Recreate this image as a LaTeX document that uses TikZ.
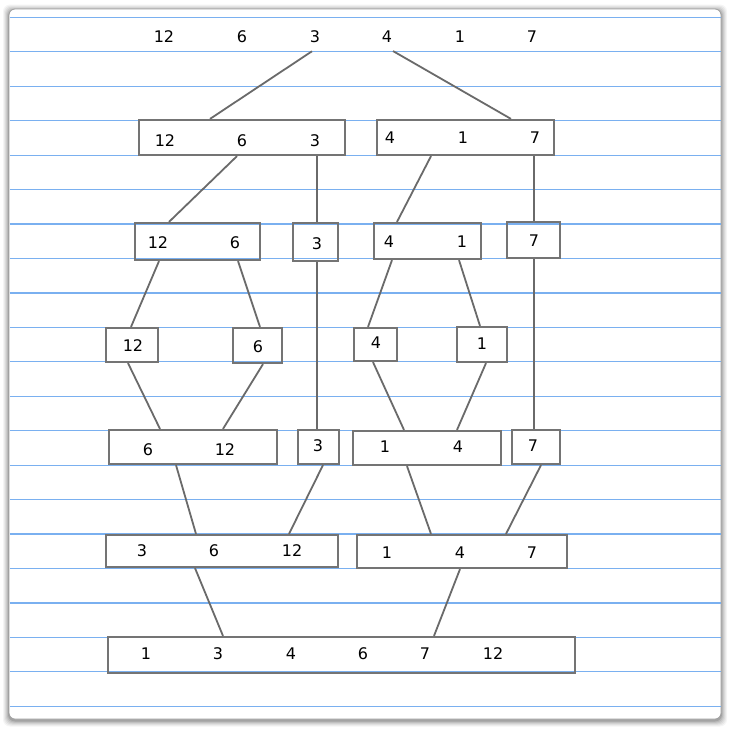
\documentclass[tikz,border=0pt]{standalone}
\usepackage{fontspec}
\setmainfont{DejaVu Sans}
\usetikzlibrary{calc}
\definecolor{ruleblue}{HTML}{7AB0F0}
\definecolor{boxgray}{HTML}{747474}
\definecolor{linkgray}{HTML}{6A6A6A}
\tikzset{
	rule/.style={draw=ruleblue, line width=1.2pt},
	box/.style={draw=boxgray, line width=2.2pt, inner sep=0pt},
	num/.style={inner sep=1pt, font=\fontsize{16}{19}\selectfont},
	link/.style={draw=linkgray, line width=1.8pt},
}
% box: name, centre, width, height
\def\bx(#1)(#2,#3)(#4,#5){\node[box, minimum width=#4pt, minimum height=#5pt] (#1) at (#2,#3) {};}

\begin{document}
\begin{tikzpicture}[x=1pt,y=-1pt]
			\useasboundingbox (0,0) rectangle (730,729);
			%%%%% PAPER %%%%%
			\foreach \s/\o in {6/0.04,5/0.05,4/0.06,3/0.07,2/0.09,1/0.12}
				\fill[black, opacity=\o, rounded corners=7] (9-\s,9-\s+1.5) rectangle (721+\s,719+\s+1.5);
			\filldraw[fill=white, draw=gray!75, line width=0.8pt, rounded corners=6] (9,9) rectangle (721,719);
			\foreach \k in {0,...,20}
				\draw[rule] (9.5,{17.3+34.45*\k}) -- (720.5,{17.3+34.45*\k});
			
			%%%%% START %%%%%
			\foreach \v/\x [count=\i] in {12/164,6/242,3/315,4/387,1/460,7/532}
				\node[num] (in\i) at (\x,37) {\v};
			
			% split
			\bx(r1a)(242,137.5)(206,35)
			\bx(r1b)(465.5,137.5)(177,35)
			\foreach \v/\x [count=\i] in {12/165,6/242,3/315}
				\node[num] (r1a-\i) at (\x,141) {\v};
			\foreach \v/\x [count=\i] in {4/390,1/463,7/535}
				\node[num] (r1b-\i) at (\x,138) {\v};
			
			\bx(r2a)(197.5,241.5)(125,37)
			\bx(r2b)(315.5,242)(45,38)
			\bx(r2c)(427.5,241)(107,36)
			\bx(r2d)(533.5,240)(53,36)
			\foreach \v/\x [count=\i] in {12/158,6/235}
				\node[num] (r2a-\i) at (\x,243) {\v};
			\node[num] (r2b-1) at (317,244) {3};
			\foreach \v/\x [count=\i] in {4/389,1/462}
				\node[num] (r2c-\i) at (\x,242) {\v};
			\node[num] (r2d-1) at (534,241) {7};
			
			\bx(r3a)(132,345)(52,34)
			\bx(r3b)(257.5,345.5)(49,35)
			\bx(r3c)(375.5,344.5)(43,33)
			\bx(r3d)(482,344.5)(50,35)
			\node[num] (r3a-1) at (133,346) {12};
			\node[num] (r3b-1) at (258,347) {6};
			\node[num] (r3c-1) at (376,343) {4};
			\node[num] (r3d-1) at (482,344) {1};
			
			% merge
			\bx(r4a)(193,447)(168,34)
			\bx(r4b)(318.5,447)(41,34)
			\bx(r4c)(427,448)(148,34)
			\bx(r4d)(536,447)(48,34)
			\foreach \v/\x [count=\i] in {6/148,12/225}
				\node[num] (r4a-\i) at (\x,450) {\v};
			\node[num] (r4b-1) at (318,446) {3};
			\foreach \v/\x [count=\i] in {1/385,4/458}
				\node[num] (r4c-\i) at (\x,447) {\v};
			\node[num] (r4d-1) at (533,446) {7};
			
			\bx(r5a)(222,551)(232,32)
			\bx(r5b)(462,551.5)(210,33)
			\foreach \v/\x [count=\i] in {3/142,6/214,12/292}
				\node[num] (r5a-\i) at (\x,551) {\v};
			\foreach \v/\x [count=\i] in {1/387,4/460,7/532}
				\node[num] (r5b-\i) at (\x,553) {\v};
			
			\bx(out)(341.5,655)(467,36)
			\foreach \v/\x [count=\i] in {1/146,3/218,4/291,6/363,7/425,12/493}
				\node[num] (out-\i) at (\x,654) {\v};
			
			%%%%% LINKS %%%%%
			\draw[link] ([xshift=-3pt,yshift=-7pt]in3.south) -- (210,0 |- r1a.north);
			\draw[link] ([xshift=6pt,yshift=-7pt]in4.south) -- (511,0 |- r1b.north);
			
			\draw[link] (237,0 |- r1a.south) -- (169,0 |- r2a.north);
			\draw[link] (317,0 |- r1a.south) -- (317,0 |- r2b.north);
			\draw[link] (431,0 |- r1b.south) -- (397,0 |- r2c.north);
			\draw[link] (534,0 |- r1b.south) -- (534,0 |- r2d.north);
			
			\draw[link] (159,0 |- r2a.south) -- (131,0 |- r3a.north);
			\draw[link] (238,0 |- r2a.south) -- (260,0 |- r3b.north);
			\draw[link] (392,0 |- r2c.south) -- (368,0 |- r3c.north);
			\draw[link] (459,0 |- r2c.south) -- (480,0 |- r3d.north);
			\draw[link] (317,0 |- r2b.south) -- (317,0 |- r4b.north);
			\draw[link] (534,0 |- r2d.south) -- (534,0 |- r4d.north);
			
			\draw[link] (128,0 |- r3a.south) -- (160,0 |- r4a.north);
			\draw[link] (263,0 |- r3b.south) -- (223,0 |- r4a.north);
			\draw[link] (373,0 |- r3c.south) -- (404,0 |- r4c.north);
			\draw[link] (486,0 |- r3d.south) -- (457,0 |- r4c.north);
			
			\draw[link] (176,0 |- r4a.south) -- (196,0 |- r5a.north);
			\draw[link] (323,0 |- r4b.south) -- (289,0 |- r5a.north);
			\draw[link] (407,0 |- r4c.south) -- (431,0 |- r5b.north);
			\draw[link] (541,0 |- r4d.south) -- (506,0 |- r5b.north);
			
			\draw[link] (195,0 |- r5a.south) -- (223,0 |- out.north);
			\draw[link] (460,0 |- r5b.south) -- (434,0 |- out.north);
			%%%%% END %%%%%
		\end{tikzpicture}
\end{document}
